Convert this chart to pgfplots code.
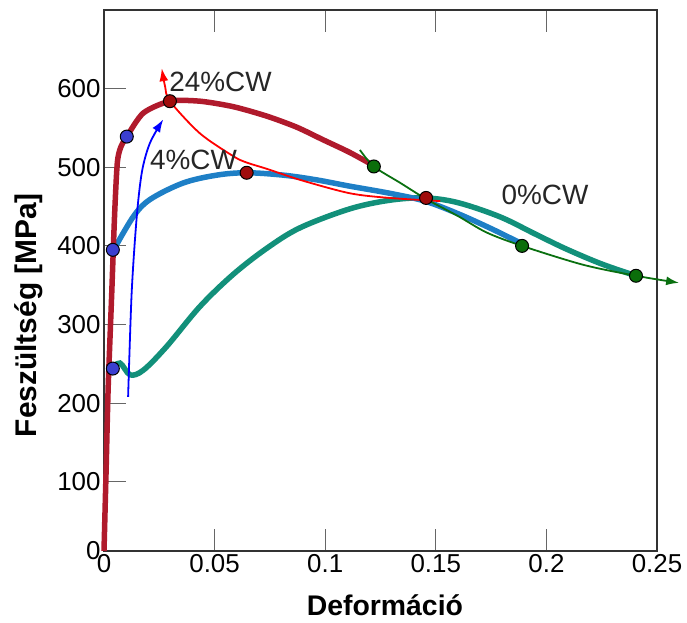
\documentclass[border=0pt]{standalone}
\usepackage{fontspec}
\setmainfont{Liberation Sans}
\usepackage{pgfplots}
\pgfplotsset{compat=1.18}
\usetikzlibrary{arrows.meta}
\definecolor{cw24}{HTML}{B01A2C}
\definecolor{cw4}{HTML}{1E7FC6}
\definecolor{cw0}{HTML}{12907A}
\definecolor{dotB}{HTML}{3B3FD0}
\definecolor{dotR}{HTML}{A00C0C}
\definecolor{dotG}{HTML}{0B6E0B}
\definecolor{arrG}{HTML}{0A7010}

\begin{document}
\begin{tikzpicture}
\begin{axis}[scale only axis, width=553bp, height=541bp,
    xmin=0, xmax=0.25, ymin=12, ymax=700,
    xtick={0,0.05,0.1,0.15,0.2,0.25}, xticklabels={0,0.05,0.1,0.15,0.2,0.25},
    ytick={12,100,200,300,400,500,600}, yticklabels={0,100,200,300,400,500,600},
    xtick pos=both, ytick pos=left,
    tick align=inside, major tick length=22bp,
    tick style={line width=1.2bp, black!60},
    axis line style={line width=1.6bp, black!80},
    tick label style={font=\fontsize{26}{30}\selectfont},
    /pgf/number format/assume math mode=true,
    xlabel={Deformáció}, ylabel={Feszültség [MPa]},
    xlabel style={font=\fontsize{28.5}{32}\selectfont\bfseries,
        at={(axis description cs:0.508,-0.1)}, anchor=center},
    ylabel style={font=\fontsize{30}{34}\selectfont\bfseries,
        at={(axis description cs:-0.137,0.436)}, anchor=center},
    clip=false]

% 0%CW
\addplot[cw0, line width=5.5bp, smooth, tension=0.55] coordinates {
 (0.003,243)(0.0072,251)(0.0118,236)(0.0178,242)(0.0283,272)(0.0434,323)
 (0.0585,364)(0.0736,397)(0.0886,423)(0.111,447)(0.129,458)(0.145,461)(0.16,455)
 (0.179,437)(0.195,415)(0.209,396)(0.225,377)(0.2405,362)};
% 4%CW
\addplot[cw4, line width=5.5bp, smooth, tension=0.55] coordinates {
 (0.004,393)(0.0132,437)(0.0208,459)(0.0358,480)(0.051,490)(0.0645,493)
 (0.081,490)(0.096,484)(0.111,476)(0.129,467)(0.145,457)(0.16,441)(0.175,422)(0.188,404)};
% 24%CW
\addplot[cw24, line width=5.5bp, smooth, tension=0.45] coordinates {
 (0,12)(0.001,120)(0.0019,221)(0.0035,340)(0.0048,440)(0.006,505)(0.0075,525)
 (0.0103,539)(0.0178,569)(0.0298,584)(0.0434,584)(0.0585,577)(0.0736,565)
 (0.0871,551)(0.099,535)(0.111,519)(0.122,502)};

% thin arrows
\addplot[blue, line width=1.8bp, smooth, -{Latex[length=13bp,width=9bp]}] coordinates {
 (0.0109,208)(0.0125,340)(0.0148,437)(0.0172,495)(0.0208,531)(0.0268,561)};
\addplot[red, line width=1.8bp, smooth, -{Latex[length=13bp,width=9bp]}] coordinates {
 (0.152,457)(0.129,461)(0.111,467)(0.0886,484)(0.0736,498)(0.0645,506)(0.0585,514)
 (0.0434,543)(0.0298,584)(0.0276,603)(0.0261,626)};
\addplot[arrG, line width=1.8bp, smooth, -{Latex[length=13bp,width=9bp]}] coordinates {
 (0.1157,522)(0.122,501)(0.134,480)(0.146,459)(0.16,438)(0.173,417)(0.189,400)
 (0.2166,376)(0.2405,362)(0.260,353)};

% dots
\addplot[only marks, mark=*, mark size=6.5bp, mark options={fill=dotB, draw=black, line width=1bp}]
 coordinates {(0.004,244)(0.004,395)(0.0103,539)};
\addplot[only marks, mark=*, mark size=6.5bp, mark options={fill=dotR, draw=black, line width=1bp}]
 coordinates {(0.0298,584)(0.0645,493)(0.1456,461)};
\addplot[only marks, mark=*, mark size=6.5bp, mark options={fill=dotG, draw=black, line width=1bp}]
 coordinates {(0.122,501)(0.189,400)(0.2405,362)};

\node[font=\fontsize{28}{32}\selectfont, text=black!85] at (axis cs:0.0527,609) {24\%CW};
\node[font=\fontsize{28}{32}\selectfont, text=black!85] at (axis cs:0.0405,510) {4\%CW};
\node[font=\fontsize{28}{32}\selectfont, text=black!85] at (axis cs:0.1994,465) {0\%CW};
\end{axis}
\pgfresetboundingbox
\path ([shift={(-104bp,-72bp)}]current axis.south west) rectangle ([shift={(30bp,10bp)}]current axis.north east);
\end{tikzpicture}
\end{document}
